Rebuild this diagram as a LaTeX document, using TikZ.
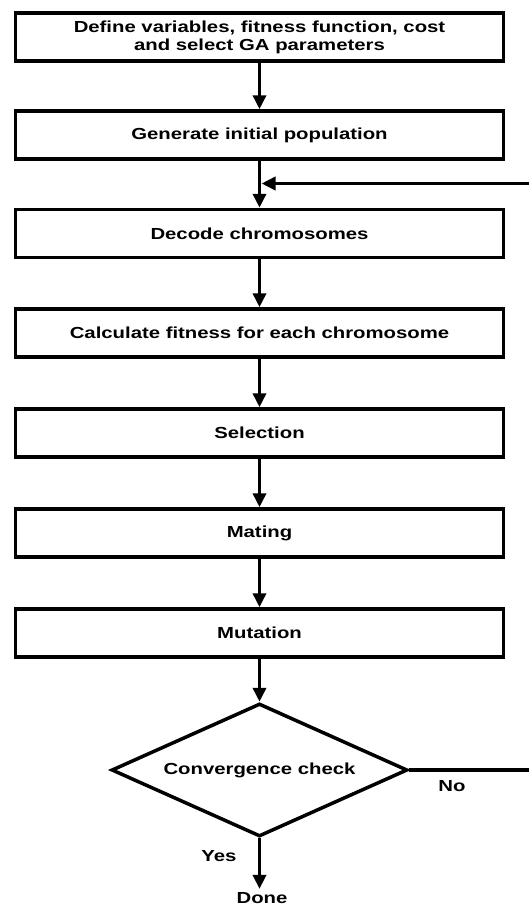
\documentclass[tikz,border=0pt]{standalone}
\usepackage{fontspec}
\usepackage{graphicx}
\setmainfont{Liberation Sans}
\usetikzlibrary{arrows.meta,shapes.geometric}
\newcommand{\wx}[1]{\scalebox{1.27}[1]{#1}}
\begin{document}
\begin{tikzpicture}[x=1pt,y=-1pt,
  stepbox/.style={draw,line width=3.5pt,minimum width=488pt,minimum height=48pt,inner sep=0pt,align=center,font=\fontsize{16}{18}\selectfont\bfseries},
  flow/.style={line width=3.5pt,-{Triangle[length=14pt,width=13pt]}},
  lbl/.style={font=\fontsize{16}{16}\selectfont\bfseries}]
\useasboundingbox (0,0) rectangle (529,907);
\node[stepbox] (b1) at (259.5,37) {\wx{Define variables, fitness function, cost}\\\wx{and select GA parameters}};
\node[stepbox] (b2) at (259.5,135) {\wx{Generate initial population}};
\node[stepbox] (b3) at (259.5,233.5) {\wx{Decode chromosomes}};
\node[stepbox] (b4) at (259.5,333) {\wx{Calculate fitness for each chromosome}};
\node[stepbox] (b5) at (259.5,433) {\wx{Selection}};
\node[stepbox] (b6) at (259.5,533) {\wx{Mating}};
\node[stepbox] (b7) at (259.5,633) {\wx{Mutation}};
\node[draw,line width=3.5pt,diamond,aspect=2.2,minimum width=296pt,minimum height=133pt,inner sep=0pt,lbl] (d) at (259.5,770) {};
\node[lbl] (dt) at (259.5,770) {\wx{Convergence check}};
\node[lbl] (done) at (262,898) {\wx{Done}};
\node[lbl] (no) at (452,786) {\wx{No}};
\node[lbl] (yes) at (219,856) {\wx{Yes}};
\coordinate (rin) at (531,183.5);
\coordinate (rout) at (531,770);
\coordinate (join) at (259.5,183.5);
\draw[flow] (b1) -- (b2);
\draw[flow] (b2) -- (b3);
\draw[flow] (b3) -- (b4);
\draw[flow] (b4) -- (b5);
\draw[flow] (b5) -- (b6);
\draw[flow] (b6) -- (b7);
\draw[flow] (b7) -- (d.north);
\draw[flow] (d.south) -- (d.south |- done.north);
\draw[line width=3.5pt] (d.east) -- (rout);
\draw[flow] (rin) -- ([xshift=2pt]join);
\end{tikzpicture}
\end{document}
